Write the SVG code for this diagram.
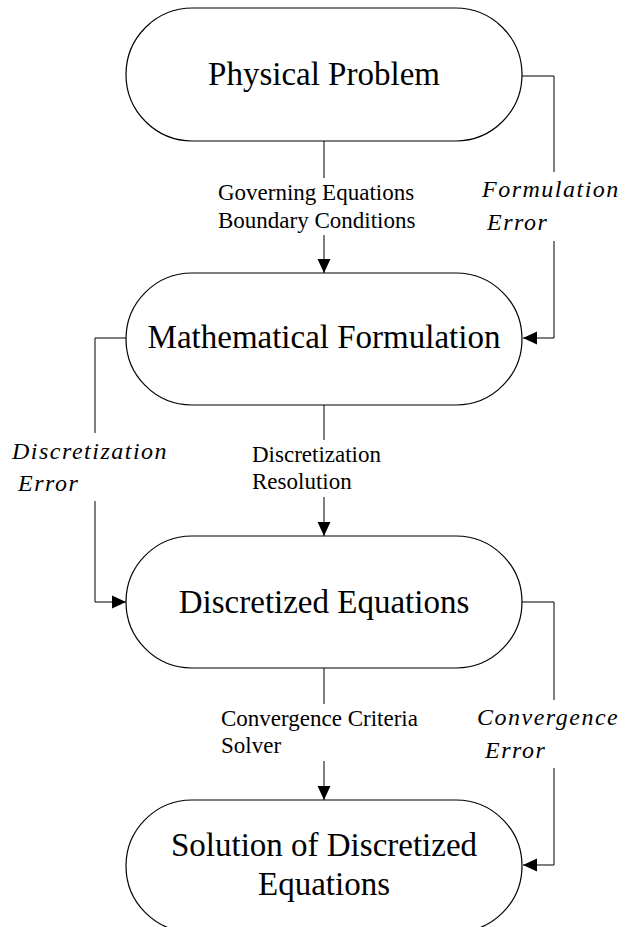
<svg xmlns="http://www.w3.org/2000/svg" width="626" height="927" viewBox="0 0 626 927">
<style>
.node{fill:#fff;stroke:#000;stroke-width:1.2}
.main{font-family:"Liberation Serif","Times New Roman",serif;font-size:33px;fill:#000;text-anchor:middle}
.lbl{font-family:"Liberation Serif","Times New Roman",serif;font-size:23px;fill:#000}
.err{font-family:"Liberation Serif","Times New Roman",serif;font-size:24px;font-style:italic;letter-spacing:1.5px;fill:#000}
.conn{fill:none;stroke:#000;stroke-width:1}
</style>
<defs>
<marker id="arr" markerUnits="userSpaceOnUse" markerWidth="14" markerHeight="14" viewBox="0 0 13 12" refX="13" refY="6" orient="auto">
<path d="M0,0 L13,6 L0,12 Z" fill="#000"/>
</marker>
</defs>
<g id="connectors">
<path class="conn" d="M324,141 V178"/>
<path class="conn" d="M324,235 V273" marker-end="url(#arr)"/>
<path class="conn" d="M324,405 V440"/>
<path class="conn" d="M324,497 V536" marker-end="url(#arr)"/>
<path class="conn" d="M324,668 V704"/>
<path class="conn" d="M324,761 V800" marker-end="url(#arr)"/>
<path class="conn" d="M522,76 H554 V172"/>
<path class="conn" d="M554,241 V338 H523" marker-end="url(#arr)"/>
<path class="conn" d="M126,338 H95 V433"/>
<path class="conn" d="M95,501 V602 H126" marker-end="url(#arr)"/>
<path class="conn" d="M522,602 H554 V700"/>
<path class="conn" d="M554,768 V865 H523" marker-end="url(#arr)"/>
<text class="lbl" x="218" y="200">Governing Equations</text>
<text class="lbl" x="218" y="228">Boundary Conditions</text>
<text class="lbl" x="252" y="462">Discretization</text>
<text class="lbl" x="252" y="489">Resolution</text>
<text class="lbl" x="221" y="726">Convergence Criteria</text>
<text class="lbl" x="221" y="753">Solver</text>
<text class="err" x="482" y="197">Formulation</text>
<text class="err" x="487" y="230">Error</text>
<text class="err" x="12" y="459">Discretization</text>
<text class="err" x="18" y="491">Error</text>
<text class="err" x="477" y="725">Convergence</text>
<text class="err" x="485" y="758">Error</text>
</g>
<g id="physical-problem">
<rect class="node" x="126" y="8" width="396" height="133" rx="66.5" ry="66.5"/>
<text class="main" x="324" y="85">Physical Problem</text>
</g>
<g id="mathematical-formulation">
<rect class="node" x="126" y="273" width="396" height="132" rx="66" ry="66"/>
<text class="main" x="324" y="348">Mathematical Formulation</text>
</g>
<g id="discretized-equations">
<rect class="node" x="126" y="536" width="396" height="132" rx="66" ry="66"/>
<text class="main" x="324" y="613">Discretized Equations</text>
</g>
<g id="solution">
<rect class="node" x="126" y="800" width="396" height="132" rx="66" ry="66"/>
<text class="main" x="324" y="856">Solution of Discretized</text>
<text class="main" x="324" y="895">Equations</text>
</g>
</svg>
